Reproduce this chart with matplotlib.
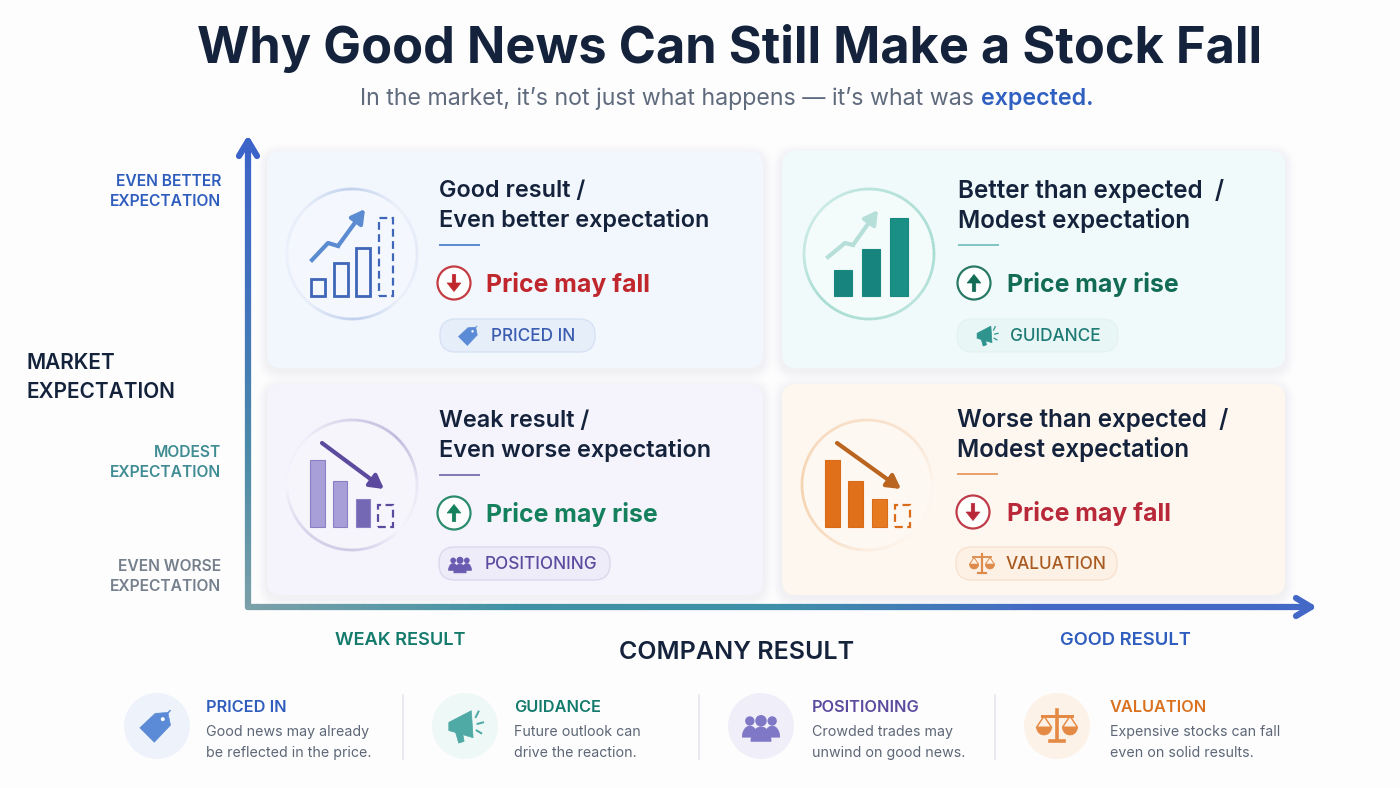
import numpy as np
import matplotlib; matplotlib.use("Agg")
import matplotlib.pyplot as plt
from matplotlib.collections import LineCollection
from matplotlib.colors import LinearSegmentedColormap, to_rgb
from matplotlib.patches import Circle, FancyBboxPatch, Polygon
plt.rcParams['font.family']=['Inter','DejaVu Sans']

TITLE="Why Good News Can Still Make a Stock Fall"
SUB_A="In the market, it’s not just what happens — it’s what was "
SUB_B="expected."
HEADS=[["Good result /","Even better expectation"],["Better than expected  /","Modest expectation"],
       ["Weak result /","Even worse expectation"],["Worse than expected  /","Modest expectation"]]
HEAD_PX=[23.4,24.2,23.4,24.2]
PRICE=["Price may fall","Price may rise","Price may rise","Price may fall"]
PRICE_UP=[False,True,True,False]
TAGS=["PRICED IN","GUIDANCE","POSITIONING","VALUATION"]
DESC=[["Good news may already","be reflected in the price."],["Future outlook can","drive the reaction."],
      ["Crowded trades may","unwind on good news."],["Expensive stocks can fall","even on solid results."]]
Y_LABELS=["EVEN BETTER\nEXPECTATION","MODEST\nEXPECTATION","EVEN WORSE\nEXPECTATION"]
# icon bars (px tall in the reference), dashed one is the "missing" bar
BARS=[[17,33,48],[26,47,78],[67,46,28],[67,46,28]]
GHOST=[78,None,22,22]
BAR_COL=[['none']*3,['#17857d','#17857d','#1a8f85'],['#a99fd8','#a99fd8','#7468b4'],['#e0701a','#e0701a','#e67a20']]

W,H=1400,788
BG='#fdfdfe'; INK='#14233b'
# card: box, ring centre, text x, head y, price y, pill box, pill text x, pill icon x
CARDS=[dict(box=(267,151,763,368),c=(352,254),tx=439,hy=189,py=283,pill=(440,319,595,352),ptx=491,pix=469,dx=454,px=486,
            bg='#f2f6fd',main='#3f66b8',ring='#aac0e6',div='#5b8bd0',pf='#e6eefa',pe='#d6e2f4',pc='#3a5cb0',ic='#5b8bd6',price='#c0272d',
            ra=[.2,.1,.7,.15,.1,.15,.7,.1],bx=(311,393)),
       dict(box=(782,151,1285,368),c=(869,254),tx=958,hy=189,py=283,pill=(957,319,1118,352),ptx=1010,pix=987,dx=974,px=1007,
            bg='#f1fafa',main='#17897f',ring='#93d5c8',div='#7fc5c4',pf='#e8f6f5',pe='#e4f3f2',pc='#1d7a74',ic='#2f938e',price='#126b55',
            ra=[.8,.7,.6,.4,.5,.8,.7,.6],bx=(834,908)),
       dict(box=(267,384,763,595),c=(352,485),tx=439,hy=419,py=513,pill=(439,547,610,580),ptx=485,pix=460,dx=454,px=486,
            bg='#f5f3fc',main='#8a7fc4',ring='#a99fcf',div='#7f78b5',pf='#efecf9',pe='#dcd8ee',pc='#5b4a9e',ic='#6a5bb0',price='#15805c',
            ra=[.15,.7,.4,.05,.0,.4,.5,.0],bx=(310,393)),
       dict(box=(782,384,1285,595),c=(867,485),tx=957,hy=418,py=512,pill=(956,547,1117,580),ptx=1006,pix=982,dx=973,px=1007,
            bg='#fef7f0',main='#d96c18',ring='#f3c9a0',div='#e7a06a',pf='#fdf0e4',pe='#f8e2cf',pc='#a85a20',ic='#dd8a4a',price='#b92838',
            ra=[.05,.4,.5,.6,.8,.6,.2,.0],bx=(825,910))]
ARROWS=[[(312,260),(328,243),(338,246),(365,209)],[(828,257),(845,243),(853,245),(878,210)],[(322,443),(384,489)],[(837,443),(901,489)]]
ARROW_COL=['#5b8bd0','#b5dfd8','#5b4a9e','#b9651f']
BOTTOM=[dict(c=157,tx=206,col='#2f5dbe',bg='#edf2fb',ic='#5b8bd6'),dict(c=465,tx=514,col='#137a6c',bg='#eef8f6',ic='#4fa9a5'),
        dict(c=761,tx=812,col='#5b4a9e',bg='#f0eff9',ic='#7f78c6'),dict(c=1057,tx=1110,col='#d9711f',bg='#fdf2e8',ic='#e58a45')]

fig=plt.figure(figsize=(14,7.88),dpi=100,facecolor=BG)
ax=fig.add_axes([0,0,1,1]); ax.set_xlim(0,W); ax.set_ylim(H,0); ax.axis('off')

def txt(x,y,s,px,col,w=400,ha='left',**k):
    return ax.text(x,y+px*.075,s,fontsize=px*.72,color=col,fontweight=w,ha=ha,va='center',zorder=6,**k)
def rbox(b,r,fc,ec='none',lw=0,z=1,alpha=None):
    ax.add_patch(FancyBboxPatch((b[0],b[1]),b[2]-b[0],b[3]-b[1],boxstyle=f"round,pad=0,rounding_size={r}",fc=fc,ec=ec,lw=lw,zorder=z,alpha=alpha))
def grad_line(pts,cols,lw):
    cm=LinearSegmentedColormap.from_list('g',cols)
    n=len(pts)-1
    lc=LineCollection([pts[i:i+2] for i in range(n)],colors=[cm(i/n) for i in range(n)],linewidths=lw,capstyle='round',zorder=4)
    ax.add_collection(lc)
def ring(c,r,col,al):
    t=np.linspace(0,2*np.pi,121); a=np.interp(t,np.linspace(0,2*np.pi,9),al+al[:1])
    pts=np.c_[c[0]+r*np.cos(t),c[1]-r*np.sin(t)]; rgb=to_rgb(col)
    ax.add_collection(LineCollection([pts[i:i+2] for i in range(120)],colors=[(*rgb,a[i]) for i in range(120)],linewidths=2,zorder=3))
def poly(cx,cy,s,pts,col,z=6):
    ax.add_patch(Polygon([(cx+s*x,cy+s*y) for x,y in pts],closed=True,fc=col,ec=col,lw=.5,zorder=z,joinstyle='round'))

def icon_tag(cx,cy,s,col):
    poly(cx,cy,s,[(-.95,.1),(-.1,-.7),(.6,-.75),(.75,-.05),(-.15,.9)],col)
    ax.add_patch(Circle((cx+.32*s,cy-.38*s),.11*s,fc='white',ec='none',zorder=7))
    ax.plot([cx+.32*s,cx+.72*s],[cy-.38*s,cy-.85*s],color=col,lw=max(.6,s*.06),zorder=6)
def icon_horn(cx,cy,s,col):
    poly(cx,cy,s,[(-.9,-.2),(.35,-.85),(.45,.65),(-.9,.25)],col)
    poly(cx,cy,s,[(-.55,.25),(-.15,.3),(-.05,.85),(-.35,.95)],col)
    for a,b,c,d in [(.6,-.5,.75,-.8),(.7,-.12,1,-.2),(.65,.25,.9,.4)]:
        ax.plot([cx+a*s,cx+c*s],[cy+b*s,cy+d*s],color=col,lw=max(.7,s*.08),zorder=6)
def icon_people(cx,cy,s,col):
    t=np.linspace(np.pi,2*np.pi,30)
    for x,rx,yb,ry,rh in [(-.62,.42,.62,.62,.26),(.62,.42,.62,.62,.26),(0,.56,.85,.8,.32)]:
        poly(cx+x*s,cy,s,list(zip(rx*np.cos(t),yb+ry*np.sin(t))),col,z=6)
        ax.add_patch(Circle((cx+x*s,cy+(yb-ry-rh-.02)*s),rh*s,fc=col,ec='none',zorder=6))
def icon_scale(cx,cy,s,col):
    lw=max(.9,s*.12)
    ax.plot([cx,cx],[cy-.9*s,cy+.8*s],color=col,lw=lw*1.2,zorder=6)
    ax.plot([cx-.85*s,cx+.85*s],[cy-.55*s,cy-.55*s],color=col,lw=lw,zorder=6)
    ax.plot([cx-.4*s,cx+.4*s],[cy+.85*s,cy+.85*s],color=col,lw=lw*1.2,zorder=6)
    t=np.linspace(0,np.pi,20)
    for d in (-.72,.72):
        poly(cx+d*s,cy,s,list(zip(.42*np.cos(t),.05+.45*np.sin(t))),col)
        ax.plot([cx+d*s-.4*s,cx+d*s,cx+d*s+.4*s],[cy+.05*s,cy-.55*s,cy+.05*s],color=col,lw=lw*.5,zorder=6)
ICONS=[icon_tag,icon_horn,icon_people,icon_scale]

# title
txt(197,45,TITLE,50.5,INK,700)
r=fig.canvas.get_renderer()
t=txt(360,97,SUB_A,23.2,'#5f6b7d',400)
e=t.get_window_extent(r)
txt(e.x1,97,SUB_B,23.2,'#2f5fc0',600)

# cards
for k,cd in enumerate(CARDS):
    b=cd['box']
    for i in range(7):
        g=(7-i)*1.6
        rbox((b[0]-g,b[1]-g+3,b[2]+g,b[3]+g+3),14+g,'#55658a',z=1,alpha=.004+.0015*i)
    rbox(b,14,cd['bg'],z=2)
    ax.add_patch(Circle(cd['c'],65,fc='white',ec='none',alpha=.22,zorder=2.5))
    ring(cd['c'],65,cd['ring'],cd['ra'])
    for j,s in enumerate(HEADS[k]):
        txt(cd['tx'],cd['hy']+30*j,s,HEAD_PX[k],INK,600)
    ax.plot([cd['tx']+1,cd['tx']+40],[cd['hy']+56]*2,color=cd['div'],lw=1.4,zorder=5)
    up=PRICE_UP[k]
    ax.add_patch(Circle((cd['dx'],cd['py']),16.5,fc='white',ec=cd['price'],lw=1.6,alpha=.9,zorder=5))
    sg=-1 if up else 1
    poly(cd['dx'],cd['py'],.85,[(-2,-10*sg),(2,-10*sg),(2,0),(8,0),(0,10*sg),(-8,0),(-2,0)],cd['price'])
    txt(cd['px'],cd['py'],PRICE[k],24.8,cd['price'],700)
    p=cd['pill']
    rbox(p,16,cd['pf'],cd['pe'],1,z=4)
    ICONS[k](cd['pix'],(p[1]+p[3])/2,11,cd['ic'])
    txt(cd['ptx'],(p[1]+p[3])/2,TAGS[k],17.2,cd['pc'],500)
    # bars through a small axes of their own, baseline at the reference's bar foot
    vals=BARS[k]; n=len(vals)+(GHOST[k] is not None)
    x0,x1=cd['bx']; y1=296 if k<2 else 527; top=max(vals+[GHOST[k] or 0])
    bax=fig.add_axes([x0/W,1-y1/H,(x1-x0)/W,top/H]); bax.axis('off')
    bax.patch.set_alpha(0); bax.set_xlim(-.32,n-1+.32); bax.set_ylim(0,top)
    bax.bar(range(len(vals)),vals,width=.64,color=BAR_COL[k],edgecolor=cd['main'],
            linewidth=2 if k==0 else .8,clip_on=False)
    if GHOST[k]:
        bax.bar([n-1],[GHOST[k]],width=.64,color='none',edgecolor=cd['main'] if k!=2 else '#5b4a9e',linewidth=1.6,linestyle=(0,(3.5,2)),clip_on=False)
    a=ARROWS[k]
    ax.plot([q[0] for q in a[:-1]],[q[1] for q in a[:-1]],color=ARROW_COL[k],lw=3,zorder=6,solid_joinstyle='round')
    ax.annotate('',xy=a[-1],xytext=a[-2],zorder=6,arrowprops=dict(arrowstyle='-|>,head_width=.45,head_length=.8',color=ARROW_COL[k],lw=3,shrinkA=0,shrinkB=0))

# axes of the matrix
grad_line(np.c_[np.full(80,248.),np.linspace(142,607,80)],['#3c63c8','#4173bd','#4a8aa8','#7aa0a8'],4.5)
grad_line(np.c_[np.linspace(248,1310,120),np.full(120,607.)],['#7aa0a8','#3f92a5','#3f8fa8','#4468c5','#4468c5'],4.5)
grad_line(np.array([(239,156),(248,141),(257,156)],float),['#3c63c8','#3c63c8'],4.5)
grad_line(np.array([(1296,598),(1311,607),(1296,616)],float),['#4468c5','#4468c5'],4.5)

for s,y,c in zip(Y_LABELS,[190,461,575],['#2f5dbe','#3f8c93','#75808c']):
    for j,l in enumerate(s.split("\n")):
        txt(221,y-10+20*j,l,15.6,c,600,ha='right')
txt(27,361,"MARKET",20.8,INK,600); txt(27,390,"EXPECTATION",20.8,INK,600)
txt(400,639,"WEAK RESULT",18.2,'#137a6c',600,ha='center')
txt(1125,639,"GOOD RESULT",18.4,'#2f5dbe',600,ha='center')
txt(737,651,"COMPANY RESULT",25,INK,600,ha='center')

# footer
for k,b in enumerate(BOTTOM):
    ax.add_patch(Circle((b['c'],726),33,fc=b['bg'],ec='none',zorder=2))
    ICONS[k](b['c'],726,18,b['ic'])
    txt(b['tx'],706,TAGS[k],16.3,b['col'],600)
    for j,s in enumerate(DESC[k]):
        txt(b['tx'],731+21*j,s,14.2,'#5d6776',400)
for x in (403,699,995):
    ax.plot([x,x],[695,759],color='#e3e6ec',lw=1.2,zorder=2)

fig.savefig("out.png",dpi=100,facecolor=BG)
